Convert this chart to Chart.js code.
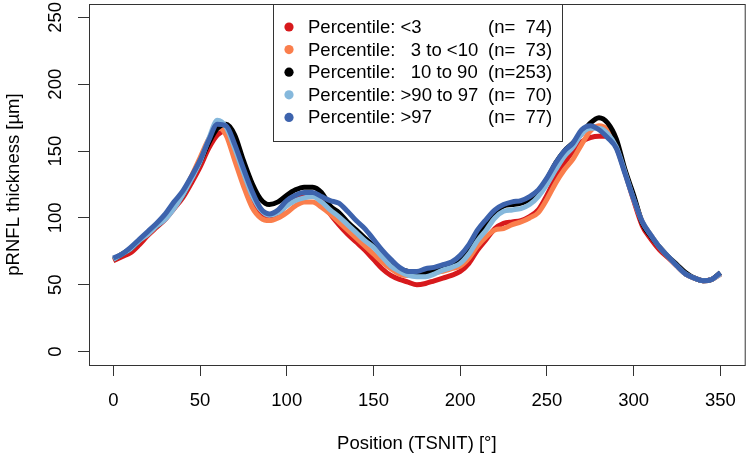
<!DOCTYPE html>
<html>
<head>
<meta charset="utf-8">
<script src="https://cdn.jsdelivr.net/npm/chart.js@4"></script>
<style>
  html, body { margin: 0; padding: 0; background: #fff; }
  #wrap { width: 750px; height: 459px; }
</style>
</head>
<body>
<div id="wrap"><canvas id="rnflChart" width="750" height="459"></canvas></div>
<script>
// positions along the TSNIT circle (degrees)
const positions = [0,5,10,15,20,25,30,35,40,45,50,55,60,65,70,75,80,85,90,95,100,105,110,115,120,125,130,135,140,145,150,155,160,165,170,175,180,185,190,195,200,205,210,215,220,225,230,235,240,245,250,255,260,265,270,275,280,285,290,295,300,305,310,315,320,325,330,335,340,345,350];

const pctLow = [68,71,74,80,87,93,99,107,115,126,138,152,162,165,152,131,113,103,100,103,110,115,118,118,114,103,95,88,82,76,69,62,57,54,52,50,51,53,55,57,60,66,76,84,92,96,97,98,101,106,117,130,141,150,157,160,161,161,153,134,113,94,84,76,70,64,58,55,53,54,58];
const pct3to10 = [69,73,77,83,88,94,100,108,118,131,145,159,168,162,143,124,108,100,98,100,104,109,112,112,108,103,97,91,85,79,73,67,62,58,57,57,57,59,60,62,64,70,79,86,91,92,95,97,100,104,114,126,136,144,155,165,169,166,155,135,115,97,87,78,71,64,58,55,53,54,58];
const pct10to90 = [69,73,77,83,89,94,100,108,117,130,142,156,167,170,162,143,126,114,110,112,117,121,123,123,119,109,104,97,91,85,79,72,66,62,60,59,59,61,63,66,69,77,88,95,103,109,110,111,114,120,129,141,150,156,163,171,175,171,159,136,117,96,86,78,71,65,59,55,53,54,59];
const pct90to97 = [69,73,77,83,88,94,99,107,117,129,142,159,173,168,152,134,117,106,102,104,109,113,115,116,112,106,101,95,89,83,78,71,64,60,57,56,56,58,61,63,66,73,83,91,100,105,106,107,110,116,125,136,146,153,163,167,167,163,153,134,114,97,87,78,71,64,58,55,53,54,58];
const pctHigh = [70,73,78,84,90,96,103,112,120,131,143,158,170,169,155,137,120,107,103,106,113,117,119,119,116,113,111,105,98,92,84,76,69,63,60,60,62,63,65,67,72,80,91,99,106,110,112,113,116,121,130,141,150,156,166,169,166,160,152,133,114,97,87,78,71,64,58,55,53,54,59];

const seriesLabels = ['Percentile: <3', 'Percentile:   3 to <10', 'Percentile:   10 to 90', 'Percentile: >90 to 97', 'Percentile: >97'];
const seriesN = ['(n=  74)', '(n=  73)', '(n=253)', '(n=  70)', '(n=  77)'];
const seriesColors = ['#D7191C', '#FA7E4C', '#000000', '#85B8DC', '#3D63AD'];

const xTicks = [0,50,100,150,200,250,300,350];
const yTicks = [0,50,100,150,200,250];

const allSeries = [pctLow, pct3to10, pct10to90, pct90to97, pctHigh];
const FONT = '"Liberation Sans", Arial, Helvetica, sans-serif';

const datasets = allSeries.map((vals, i) => ({
  label: seriesLabels[i],
  data: vals.map((v, j) => ({x: positions[j], y: v})),
  borderColor: seriesColors[i],
  backgroundColor: seriesColors[i],
  borderWidth: 5,
  pointRadius: 0,
  fill: false,
  cubicInterpolationMode: 'monotone',
  order: allSeries.length - i
}));

// box, rotated y labels, y title and the legend, R style
const rStyle = {
  id: 'rStyle',
  afterDraw(chart) {
    const ctx = chart.ctx;
    const a = chart.chartArea;
    const ys = chart.scales.y;
    ctx.save();
    ctx.strokeStyle = '#333';
    ctx.lineWidth = 1;
    ctx.strokeRect(a.left + 0.5, a.top + 0.5, a.right - a.left, a.bottom - a.top);

    ctx.fillStyle = '#000';
    ctx.font = '18.5px ' + FONT;
    ctx.textAlign = 'center';
    ctx.textBaseline = 'middle';
    yTicks.forEach(t => {
      const py = ys.getPixelForValue(t);
      ctx.save();
      ctx.translate(56, py);
      ctx.rotate(-Math.PI / 2);
      ctx.fillText(String(t), 0, 0);
      ctx.restore();
    });
    ctx.save();
    ctx.translate(14, (a.top + a.bottom) / 2);
    ctx.rotate(-Math.PI / 2);
    ctx.fillText('pRNFL thickness [µm]', 0, 0);
    ctx.restore();

    // legend
    const lx = 273, ly = a.top, lw = 289, lh = 137;
    ctx.fillStyle = '#fff';
    ctx.fillRect(lx, ly, lw, lh);
    ctx.strokeStyle = '#333';
    ctx.strokeRect(lx + 0.5, ly + 0.5, lw, lh);
    ctx.textAlign = 'left';
    seriesLabels.forEach((lab, i) => {
      const ry = 27 + i * 22.6;
      ctx.fillStyle = seriesColors[i];
      ctx.beginPath();
      ctx.arc(289, ry, 4.6, 0, Math.PI * 2);
      ctx.fill();
      ctx.fillStyle = '#000';
      ctx.fillText(lab, 308, ry + 1);
      ctx.fillText(seriesN[i], 488, ry + 1);
    });
    ctx.restore();
  }
};

new Chart(document.getElementById('rnflChart').getContext('2d'), {
  type: 'line',
  data: { datasets: datasets },
  options: {
    responsive: false,
    animation: false,
    events: [],
    layout: { padding: { left: 0, top: 4, right: 4, bottom: 0 } },
    plugins: { legend: { display: false }, tooltip: { enabled: false } },
    scales: {
      x: {
        type: 'linear',
        min: -14,
        max: 364,
        afterBuildTicks: s => { s.ticks = xTicks.map(v => ({value: v})); },
        afterFit: s => { s.height = 94; },
        border: { display: false },
        grid: { drawOnChartArea: false, drawTicks: true, tickLength: 11, color: '#333', lineWidth: 1 },
        ticks: { color: '#000', font: { family: FONT, size: 18.5 }, padding: 14, maxRotation: 0 },
        title: { display: true, text: 'Position (TSNIT) [°]', color: '#000', font: { family: FONT, size: 18.5 }, padding: { top: 14 } }
      },
      y: {
        type: 'linear',
        min: -10,
        max: 260,
        afterBuildTicks: s => { s.ticks = yTicks.map(v => ({value: v})); },
        afterFit: s => { s.width = 89; },
        border: { display: false },
        grid: { drawOnChartArea: false, drawTicks: true, tickLength: 11, color: '#333', lineWidth: 1 },
        ticks: { display: false }
      }
    }
  },
  plugins: [rStyle]
});
</script>
</body>
</html>
